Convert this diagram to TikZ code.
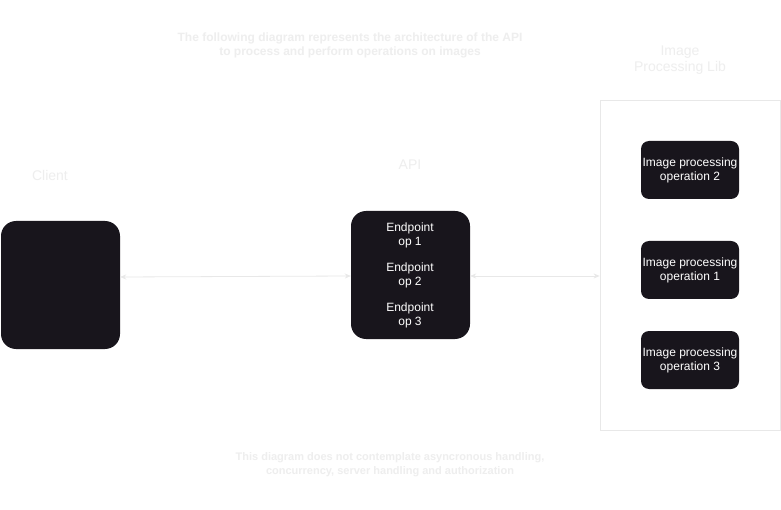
\documentclass[tikz,border=0pt]{standalone}
\usepackage{fontspec}
\setmainfont{Liberation Sans}
\usetikzlibrary{arrows.meta,calc}
\definecolor{boxfill}{HTML}{18151C}
\definecolor{faint}{HTML}{EEEEEE}
\definecolor{edge}{HTML}{E8E8E8}
\tikzset{
  darkbox/.style={fill=boxfill,draw=none,rounded corners=#1,inner sep=0pt},
  darkbox/.default=8pt,
  optext/.style={text=white,align=center,font=\fontsize{12}{14}\selectfont},
  faintlabel/.style={text=faint,align=center,font=\fontsize{14}{16}\selectfont},
  conn/.style={{Stealth[length=6pt,width=5pt]}-{Stealth[length=6pt,width=5pt]},edge,line width=0.8pt}
}
\begin{document}
\begin{tikzpicture}[x=1pt,y=-1pt]
  \useasboundingbox[fill=white] (0,0) rectangle (781,510);
  % headline and footnote
  \node[text=faint,align=center,font=\bfseries\fontsize{12}{14}\selectfont] (head) at (350,45)
    {The following diagram represents the architecture of the API\\to process and perform operations on images};
  \node[text=faint,align=center,font=\bfseries\fontsize{11}{14}\selectfont] (foot) at (390,465)
    {This diagram does not contemplate asyncronous handling,\\concurrency, server handling and authorization};
  % client
  \node[faintlabel] (clientlbl) at (50,175) {Client};
  \node[darkbox=15pt,minimum width=119pt,minimum height=128pt] (client) at (60.5,285) {};
  % api
  \node[faintlabel] (apilbl) at (410,165) {API};
  \node[darkbox=15pt,minimum width=119pt,minimum height=128pt] (api) at (410.5,275) {};
  \node[optext] (ep1) at (410,235) {Endpoint\\op 1};
  \node[optext] (ep2) at (410,275) {Endpoint\\op 2};
  \node[optext] (ep3) at (410,315) {Endpoint\\op 3};
  % image processing lib
  \node[faintlabel] (liblbl) at (680,60) {Image\\Processing Lib};
  \node[draw=edge,line width=0.8pt,minimum width=180pt,minimum height=330pt] (lib) at (690,265) {};
  \node[darkbox,minimum width=98pt,minimum height=58pt,optext] (op2) at (690,170) {Image processing\\operation 2};
  \node[darkbox,minimum width=98pt,minimum height=58pt,optext] (op1) at (690,270) {Image processing\\operation 1};
  \node[darkbox,minimum width=98pt,minimum height=58pt,optext] (op3) at (690,360) {Image processing\\operation 3};
  % connectors
  \draw[conn] (client.east |- 0,277) -- (api.west |- 0,276);
  \draw[conn] (api.east |- 0,276) -- (lib.west |- 0,276);
\end{tikzpicture}
\end{document}
